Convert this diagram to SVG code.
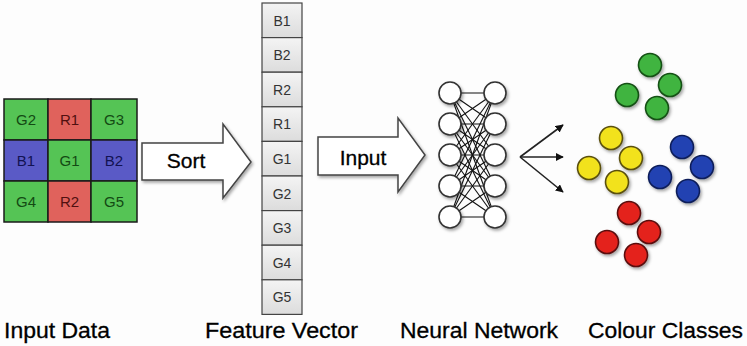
<svg xmlns="http://www.w3.org/2000/svg" width="747" height="346" viewBox="0 0 747 346">
<defs>
<filter id="sh" x="-30%" y="-30%" width="160%" height="160%">
<feDropShadow dx="1.5" dy="2" stdDeviation="1.8" flood-color="#000" flood-opacity="0.35"/>
</filter>
<linearGradient id="fv" x1="0" y1="0" x2="0" y2="1">
<stop offset="0" stop-color="#f4f4f4"/><stop offset="1" stop-color="#dcdcdc"/>
</linearGradient>
<marker id="ah" viewBox="0 0 10 10" refX="9" refY="5" markerWidth="5" markerHeight="5" orient="auto">
<path d="M0,0 L10,5 L0,10 z" fill="#111"/>
</marker>
</defs>
<style>
.t{font-family:"Liberation Sans",Arial,sans-serif}
.lbl{font-size:22px;fill:#000;stroke:#000;stroke-width:0.3}
.cell{stroke:#1a1a1a;stroke-width:1.5}
.g{fill:#55c455}.r{fill:#e0625c}.b{fill:#5a5ac6}
.ct{font-size:15px;text-anchor:middle}
.gt{fill:#134a13}.rt{fill:#501010}.bt{fill:#121252}
.fb{fill:url(#fv);stroke:#444;stroke-width:1.2}
.ft{font-size:14px;fill:#333;text-anchor:middle}
.blk{fill:#fff;stroke:#444;stroke-width:1.5;filter:url(#sh)}
.at{font-size:21px;fill:#000;text-anchor:middle;stroke:#000;stroke-width:0.3}
.nn{fill:#fff;stroke:#333;stroke-width:1.6;filter:url(#sh)}
.ed{stroke:#111;stroke-width:1.1}
.out{stroke:#222;stroke-width:1.6;fill:none;marker-end:url(#ah)}
.cg{fill:#3fb43f;stroke:#145014;stroke-width:1.6}
.cy{fill:#f2e21e;stroke:#5a5010;stroke-width:1.6}
.cb{fill:#2443b2;stroke:#0e1f5a;stroke-width:1.6}
.cr{fill:#e4221e;stroke:#5a1010;stroke-width:1.6}
</style>
<rect width="747" height="346" fill="#fdfdfd"/>

<g id="input-data" class="t">
<rect class="cell g" x="4" y="99" width="44" height="41"/>
<rect class="cell r" x="48" y="99" width="43" height="41"/>
<rect class="cell g" x="91" y="99" width="46" height="41"/>
<rect class="cell b" x="4" y="140" width="44" height="41"/>
<rect class="cell g" x="48" y="140" width="43" height="41"/>
<rect class="cell b" x="91" y="140" width="46" height="41"/>
<rect class="cell g" x="4" y="181" width="44" height="41"/>
<rect class="cell r" x="48" y="181" width="43" height="41"/>
<rect class="cell g" x="91" y="181" width="46" height="41"/>
<text class="ct gt" x="26" y="125">G2</text>
<text class="ct rt" x="69.5" y="125">R1</text>
<text class="ct gt" x="114" y="125">G3</text>
<text class="ct bt" x="26" y="166">B1</text>
<text class="ct gt" x="69.5" y="166">G1</text>
<text class="ct bt" x="114" y="166">B2</text>
<text class="ct gt" x="26" y="207">G4</text>
<text class="ct rt" x="69.5" y="207">R2</text>
<text class="ct gt" x="114" y="207">G5</text>
</g>

<g id="feature-vector" class="t">
<rect class="fb" x="262" y="3" width="40" height="34.6"/>
<rect class="fb" x="262" y="37.6" width="40" height="34.6"/>
<rect class="fb" x="262" y="72.2" width="40" height="34.6"/>
<rect class="fb" x="262" y="106.8" width="40" height="34.6"/>
<rect class="fb" x="262" y="141.4" width="40" height="34.6"/>
<rect class="fb" x="262" y="176" width="40" height="34.6"/>
<rect class="fb" x="262" y="210.6" width="40" height="34.6"/>
<rect class="fb" x="262" y="245.2" width="40" height="34.6"/>
<rect class="fb" x="262" y="279.8" width="40" height="34.6"/>
<text class="ft" x="282" y="25.5">B1</text>
<text class="ft" x="282" y="60">B2</text>
<text class="ft" x="282" y="94.7">R2</text>
<text class="ft" x="282" y="129.3">R1</text>
<text class="ft" x="282" y="163.9">G1</text>
<text class="ft" x="282" y="198.5">G2</text>
<text class="ft" x="282" y="233.1">G3</text>
<text class="ft" x="282" y="267.7">G4</text>
<text class="ft" x="282" y="302.3">G5</text>
</g>

<g id="neural-network">
<g class="ed">
<line x1="450" y1="93" x2="495" y2="93"/><line x1="450" y1="93" x2="495" y2="124"/><line x1="450" y1="93" x2="495" y2="155"/><line x1="450" y1="93" x2="495" y2="186"/><line x1="450" y1="93" x2="495" y2="217"/>
<line x1="450" y1="124" x2="495" y2="93"/><line x1="450" y1="124" x2="495" y2="124"/><line x1="450" y1="124" x2="495" y2="155"/><line x1="450" y1="124" x2="495" y2="186"/><line x1="450" y1="124" x2="495" y2="217"/>
<line x1="450" y1="155" x2="495" y2="93"/><line x1="450" y1="155" x2="495" y2="124"/><line x1="450" y1="155" x2="495" y2="155"/><line x1="450" y1="155" x2="495" y2="186"/><line x1="450" y1="155" x2="495" y2="217"/>
<line x1="450" y1="186" x2="495" y2="93"/><line x1="450" y1="186" x2="495" y2="124"/><line x1="450" y1="186" x2="495" y2="155"/><line x1="450" y1="186" x2="495" y2="186"/><line x1="450" y1="186" x2="495" y2="217"/>
<line x1="450" y1="217" x2="495" y2="93"/><line x1="450" y1="217" x2="495" y2="124"/><line x1="450" y1="217" x2="495" y2="155"/><line x1="450" y1="217" x2="495" y2="186"/><line x1="450" y1="217" x2="495" y2="217"/>
</g>
<circle class="nn" cx="450" cy="93" r="11"/><circle class="nn" cx="450" cy="124" r="11"/><circle class="nn" cx="450" cy="155" r="11"/><circle class="nn" cx="450" cy="186" r="11"/><circle class="nn" cx="450" cy="217" r="11"/>
<circle class="nn" cx="495" cy="93" r="11"/><circle class="nn" cx="495" cy="124" r="11"/><circle class="nn" cx="495" cy="155" r="11"/><circle class="nn" cx="495" cy="186" r="11"/><circle class="nn" cx="495" cy="217" r="11"/>
</g>

<g id="colour-classes" filter="url(#sh)">
<circle class="cg" cx="650" cy="65" r="11.5"/><circle class="cg" cx="670" cy="85" r="11.5"/><circle class="cg" cx="627" cy="95" r="11.5"/><circle class="cg" cx="657" cy="108" r="11.5"/>
<circle class="cy" cx="611" cy="138" r="11.5"/><circle class="cy" cx="631" cy="158" r="11.5"/><circle class="cy" cx="589" cy="168" r="11.5"/><circle class="cy" cx="617" cy="182" r="11.5"/>
<circle class="cb" cx="682" cy="147" r="11.5"/><circle class="cb" cx="702" cy="167" r="11.5"/><circle class="cb" cx="660" cy="177" r="11.5"/><circle class="cb" cx="688" cy="191" r="11.5"/>
<circle class="cr" cx="629" cy="213" r="11.5"/><circle class="cr" cx="649" cy="232" r="11.5"/><circle class="cr" cx="607" cy="242" r="11.5"/><circle class="cr" cx="636" cy="255" r="11.5"/>
</g>

<g id="connectors" class="t">
<g id="sort-arrow">
<path class="blk" d="M142,143 L223,143 L223,124 L251,162 L223,198 L223,180 L142,180 Z"/>
<text class="at" x="186" y="168">Sort</text>
</g>
<g id="input-arrow">
<path class="blk" d="M318,137 L398,137 L398,118 L425,155 L398,192 L398,175 L318,175 Z"/>
<text class="at" x="363" y="165">Input</text>
</g>
<g id="output-arrows">
<line class="out" x1="520" y1="157" x2="563" y2="125"/>
<line class="out" x1="520" y1="157" x2="563" y2="157"/>
<line class="out" x1="520" y1="157" x2="563" y2="192"/>
</g>
</g>

<g id="labels" class="t">
<text class="lbl" x="4" y="338" textLength="106" lengthAdjust="spacingAndGlyphs">Input Data</text>
<text class="lbl" x="205" y="338" textLength="153" lengthAdjust="spacingAndGlyphs">Feature Vector</text>
<text class="lbl" x="400" y="338" textLength="158" lengthAdjust="spacingAndGlyphs">Neural Network</text>
<text class="lbl" x="588" y="338" textLength="155" lengthAdjust="spacingAndGlyphs">Colour Classes</text>
</g>
</svg>
